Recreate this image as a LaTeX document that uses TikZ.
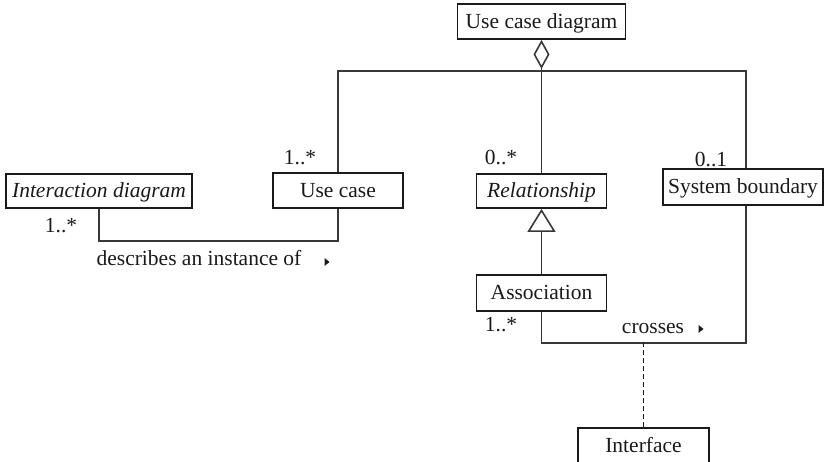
\documentclass[tikz,border=0pt]{standalone}
\usepackage{fontspec}
\setmainfont{Liberation Serif}
\usetikzlibrary{arrows.meta,calc}
\definecolor{ink}{HTML}{1A1A1A}
\definecolor{wire}{HTML}{383838}
\begin{document}
\begin{tikzpicture}[x=1pt,y=-1pt,
  txt/.style={font=\fontsize{21.5}{25}\selectfont, text=ink, inner sep=0pt},
  cls/.style={txt, draw=ink, line width=1.8pt, fill=white, rectangle,
    text height=17pt, text depth=3pt},
  link/.style={draw=wire, line width=1.4pt},
  mult/.style={txt, anchor=base},
  dirmark/.style={fill=ink}]
\useasboundingbox (0,0) rectangle (825,462);

% classes
\node[cls, minimum width=168pt, minimum height=35pt] (ucd)    at (541.5,21.5) {Use case diagram};
\node[cls, minimum width=186pt, minimum height=34pt] (inter)  at (99,191)     {\itshape Interaction diagram};
\node[cls, minimum width=130pt, minimum height=35pt] (uc)     at (338,190.5)  {Use case};
\node[cls, minimum width=130pt, minimum height=34pt] (rel)    at (541.5,191)  {\itshape Relationship};
\node[cls, minimum width=160pt, minimum height=36pt] (sysb)   at (743,187)    {System boundary};
\node[cls, minimum width=130pt, minimum height=36pt] (assoc)  at (541.5,293)  {Association};
\node[cls, minimum width=131pt, minimum height=35pt] (iface)  at (643.5,445.5){Interface};

% aggregation from the diagram to its parts
\coordinate (hub) at (541.5,71);
\draw[link, -{Diamond[open, length=29pt, width=16pt, line width=1.6pt]}] (hub) -- (ucd.south);
\draw[link] (uc.north) |- (hub) -| ([xshift=3pt]sysb.north);
\draw[link] (hub) -- (rel.north);

% generalisation
\draw[link, -{Triangle[open, length=23pt, width=28pt, line width=1.6pt]}] (assoc.north) -- (rel.south);

% associations
\draw[link] (inter.south) -- ++(0,32) -| (uc.south);
\draw[link] (assoc.south) -- ++(0,31) -| ([xshift=3pt]sysb.south);

% association class
\coordinate (cross) at (643.5,342);
\draw[link, draw=ink, line width=1.8pt, dash pattern=on 5pt off 3pt] (cross) -- (iface.north);

% multiplicities
\node[mult] (m1) at (300,165) {1..*};
\node[mult] (m2) at (501,165) {0..*};
\node[mult] (m3) at (711,166.5) {0..1};
\node[mult] (m4) at (61,233) {1..*};
\node[mult] (m5) at (501,332) {1..*};

% association names with reading direction
\node[mult] (n1) at (199,266) {describes an instance of};
\fill[dirmark] (324.5,258) -- (329.5,262) -- (324.5,266) -- cycle;
\node[mult] (n2) at (653,334) {crosses};
\fill[dirmark] (698.5,325) -- (703.5,329) -- (698.5,333) -- cycle;
\end{tikzpicture}
\end{document}
